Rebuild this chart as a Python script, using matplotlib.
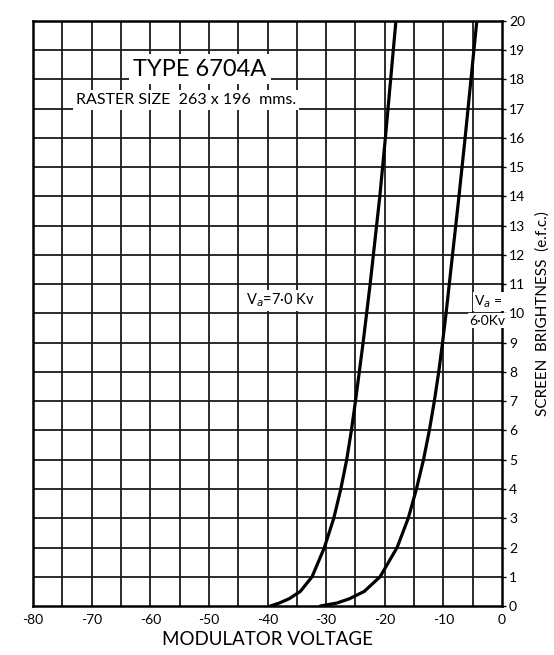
import matplotlib
matplotlib.use("Agg")
import matplotlib.pyplot as plt
import numpy as np

# ── data ─────────────────────────────────────────────────────────────────────

va7_volts = [-39.5, -38.0, -36.3, -34.4, -32.4, -30.3, -28.7, -27.5, -26.5,
             -25.7, -25.0, -24.35, -23.7, -23.1, -22.5, -21.95, -21.4, -20.85,
             -19.9, -19.0, -18.1]
va7_bright = [0.0, 0.1, 0.25, 0.5, 1.0, 2.0, 3.0, 4.0, 5.0,
              6.0, 7.0, 8.0, 9.0, 10.0, 11.0, 12.0, 13.0, 14.0,
              16.0, 18.0, 20.0]

va6_volts = [-31.0, -28.2, -26.0, -23.5, -20.8, -17.9, -16.0, -14.6, -13.4,
             -12.4, -11.55, -10.8, -10.15, -9.55, -9.0, -8.45, -7.9, -7.35,
             -6.3, -5.3, -4.3]
va6_bright = [0.0, 0.1, 0.25, 0.5, 1.0, 2.0, 3.0, 4.0, 5.0,
              6.0, 7.0, 8.0, 9.0, 10.0, 11.0, 12.0, 13.0, 14.0,
              16.0, 18.0, 20.0]

x_ticks = [-80, -70, -60, -50, -40, -30, -20, -10, 0]
x_tick_labels = ["-80", "-70", "-60", "-50", "-40", "-30", "-20", "-10", "0"]
y_ticks = list(range(0, 21))

# ── figure ───────────────────────────────────────────────────────────────────

plt.rcParams["font.family"] = ["Lato", "DejaVu Sans"]

fig = plt.figure(figsize=(5.54, 6.55), dpi=100)
ax = fig.add_axes([0.0596, 0.0748, 0.8466, 0.8932])

ax.set_xlim(-80, 0)
ax.set_ylim(0, 20)

# grid: every 5 V and every unit of brightness
for xv in np.arange(-75, 0, 5):
    ax.axvline(xv, color="#1a1a1a", linewidth=1.3, zorder=1)
for yv in np.arange(1, 20, 1):
    ax.axhline(yv, color="#1a1a1a", linewidth=1.3, zorder=1)

ax.plot(va7_volts, va7_bright, color="black", linewidth=2.3,
        solid_joinstyle="round", solid_capstyle="round", zorder=3)
ax.plot(va6_volts, va6_bright, color="black", linewidth=2.3,
        solid_joinstyle="round", solid_capstyle="round", zorder=3)

for s in ax.spines.values():
    s.set_linewidth(1.8)
    s.set_color("black")

ax.set_xticks(x_ticks)
ax.set_xticklabels(x_tick_labels)
ax.set_yticks(y_ticks)
ax.yaxis.tick_right()
ax.tick_params(axis="x", length=0, pad=6, labelsize=10)
ax.tick_params(axis="y", length=3, width=1, pad=2, labelsize=10)

ax.set_xlabel("MODULATOR VOLTAGE", fontsize=13.5, labelpad=3)
ax.yaxis.set_label_position("right")
ax.set_ylabel("SCREEN  BRIGHTNESS  (e.f.c.)", fontsize=11, labelpad=7)

ax.text(-62.9, 18.35, "TYPE 6704A", fontsize=17, ha="left", va="center",
        bbox=dict(facecolor="white", edgecolor="none", pad=3), zorder=4)
ax.text(-72.7, 17.3, "RASTER SIZE  263 x 196  mms.", fontsize=11.5,
        ha="left", va="center",
        bbox=dict(facecolor="white", edgecolor="none", pad=2), zorder=4)

ax.text(-43.6, 10.45, "V$_a$=7·0 Kv", fontsize=10.5, ha="left", va="center",
        bbox=dict(facecolor="white", edgecolor="none", pad=1), zorder=4)
ax.text(-4.8, 10.4, "V$_a$ =", fontsize=10, ha="left", va="center",
        bbox=dict(facecolor="white", edgecolor="none", pad=1), zorder=4)
ax.text(-5.6, 9.75, "6·0Kv", fontsize=10, ha="left", va="center",
        bbox=dict(facecolor="white", edgecolor="none", pad=1), zorder=4)

fig.savefig("out.png", dpi=100)
